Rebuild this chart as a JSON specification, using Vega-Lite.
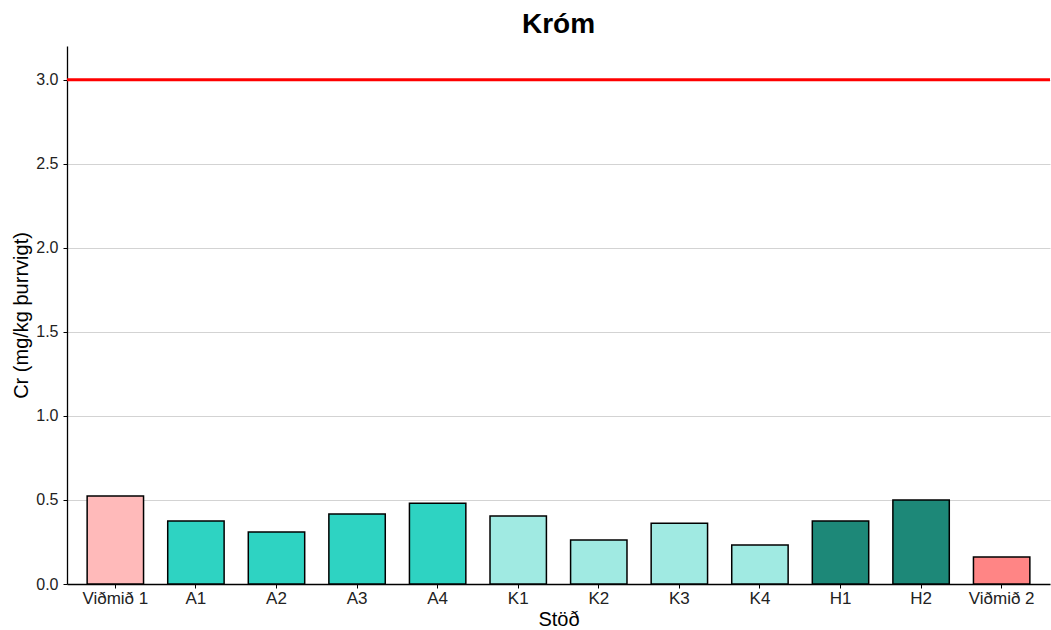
{
  "$schema": "https://vega.github.io/schema/vega-lite/v6.json",
  "autosize": {"type": "none"},
  "width": 983,
  "height": 538,
  "padding": {"left": 67, "top": 46, "right": 1, "bottom": 46},
  "background": "white",
  "title": {"text": "Króm", "font": "Liberation Sans", "fontSize": 28, "fontWeight": "bold", "color": "black", "anchor": "middle", "offset": 7},
  "config": {
    "view": {"stroke": null}
  },
  "layer": [
    {
      "data": {"values": [
        {"station": "Viðmið 1", "value": 0.523, "color": "#FFBABA"},
        {"station": "A1", "value": 0.374, "color": "#2ED3C2"},
        {"station": "A2", "value": 0.309, "color": "#2ED3C2"},
        {"station": "A3", "value": 0.416, "color": "#2ED3C2"},
        {"station": "A4", "value": 0.481, "color": "#2ED3C2"},
        {"station": "K1", "value": 0.404, "color": "#A0EAE2"},
        {"station": "K2", "value": 0.261, "color": "#A0EAE2"},
        {"station": "K3", "value": 0.362, "color": "#A0EAE2"},
        {"station": "K4", "value": 0.232, "color": "#A0EAE2"},
        {"station": "H1", "value": 0.374, "color": "#1D8878"},
        {"station": "H2", "value": 0.499, "color": "#1D8878"},
        {"station": "Viðmið 2", "value": 0.160, "color": "#FF8585"}
      ]},
      "mark": {"type": "bar", "stroke": "black", "strokeWidth": 1.5},
      "encoding": {
        "x": {"field": "station", "type": "nominal", "sort": null, "title": "Stöð",
              "scale": {"paddingInner": 0.3, "paddingOuter": 0.25},
              "axis": {"labelAngle": 0, "titlePadding": 3, "labelPadding": 2,
                       "labelFont": "Liberation Sans", "titleFont": "Liberation Sans", "labelFontSize": 17, "titleFontSize": 20, "titleFontWeight": "normal",
                       "labelColor": "#222", "titleColor": "black", "domainColor": "black", "domainWidth": 1.3, "tickColor": "black", "tickSize": 4}},
        "y": {"field": "value", "type": "quantitative", "title": "Cr (mg/kg þurrvigt)",
              "scale": {"domain": [0, 3.2], "nice": false, "zero": true},
              "axis": {"values": [0, 0.5, 1, 1.5, 2, 2.5, 3], "format": ".1f", "grid": true, "gridColor": "#d3d3d3", "gridWidth": 1.2, "labelPadding": 5, "titlePadding": 4,
                       "labelFont": "Liberation Sans", "titleFont": "Liberation Sans", "labelFontSize": 16, "titleFontSize": 20, "titleFontWeight": "normal",
                       "labelColor": "#222", "titleColor": "black", "domainColor": "black", "domainWidth": 1.3, "tickColor": "black", "tickSize": 4}},
        "color": {"field": "color", "type": "nominal", "scale": null, "legend": null}
      }
    },
    {
      "data": {"values": [{"limit": 3.0}]},
      "mark": {"type": "rule", "color": "#FF0000", "strokeWidth": 3},
      "encoding": {"y": {"field": "limit", "type": "quantitative"}}
    }
  ]
}
